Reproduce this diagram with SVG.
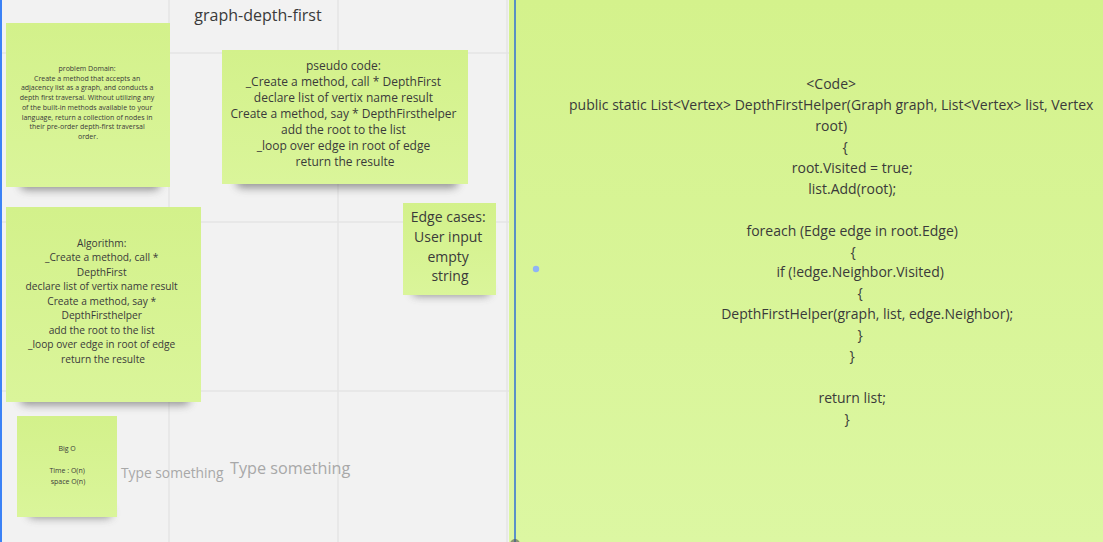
<svg xmlns="http://www.w3.org/2000/svg" width="1103" height="542" viewBox="0 0 1103 542">
<style>
.t{font-family:"Open Sans","Noto Sans","Liberation Sans",sans-serif;fill:#3a3a3a;text-anchor:middle}
.grid{stroke:#e4e4e4;stroke-width:1.5;fill:none}
.note{fill:url(#ng)}
.ph{font-family:"Open Sans","Noto Sans","Liberation Sans",sans-serif;fill:#a8a8a8}
</style>
<defs>
<linearGradient id="ng" x1="0" y1="0" x2="0" y2="1">
<stop offset="0" stop-color="#d3f18b"/>
<stop offset="1" stop-color="#daf59a"/>
</linearGradient>
<linearGradient id="pg" x1="0" y1="0" x2="0" y2="1">
<stop offset="0" stop-color="#d4f28c"/>
<stop offset="1" stop-color="#dcf7a2"/>
</linearGradient>
<filter id="sh" x="-20%" y="-20%" width="140%" height="160%">
<feGaussianBlur stdDeviation="4"/>
</filter>
</defs>
<rect width="1103" height="542" fill="#f2f2f2"/>
<g id="grid">
<line class="grid" x1="169" y1="0" x2="169" y2="542"/>
<line class="grid" x1="338" y1="0" x2="338" y2="542"/>
<line class="grid" x1="507" y1="0" x2="507" y2="542"/>
<line class="grid" x1="0" y1="53" x2="509" y2="53"/>
<line class="grid" x1="0" y1="222" x2="509" y2="222"/>
<line class="grid" x1="0" y1="391" x2="509" y2="391"/>
</g>
<line x1="1" y1="0" x2="1" y2="542" stroke="#3b82f6" stroke-width="2"/>
<text class="t" x="258" y="21" font-size="16" fill="#333">graph-depth-first</text>

<g id="shadows" fill="#555" opacity="0.6" filter="url(#sh)">
<rect x="20" y="177" width="140" height="13" rx="6"/>
<rect x="236" y="175" width="222" height="13" rx="6"/>
<rect x="20" y="392" width="170" height="13" rx="6"/>
<rect x="412" y="286" width="78" height="10" rx="5"/>
<rect x="28" y="508" width="84" height="10" rx="5"/>
</g>

<g id="problem-domain">
<rect class="note" x="6" y="23" width="164" height="164"/>
<text class="t" font-size="7" x="88">
<tspan x="88" y="71">problem Domain:</tspan>
<tspan x="88" y="80.7">Create a method that accepts an</tspan>
<tspan x="88" y="90.4">adjacency list as a graph, and conducts a</tspan>
<tspan x="88" y="100.1">depth first traversal. Without utilizing any</tspan>
<tspan x="88" y="109.8">of the built-in methods available to your</tspan>
<tspan x="88" y="119.5">language, return a collection of nodes in</tspan>
<tspan x="88" y="129.2">their pre-order depth-first traversal</tspan>
<tspan x="88" y="138.9">order.</tspan>
</text>
</g>

<g id="pseudo-code">
<rect class="note" x="222" y="50" width="246" height="134"/>
<text class="t" font-size="12" x="345">
<tspan x="345" y="70">pseudo code:</tspan>
<tspan x="345" y="86">_Create a method, call * DepthFirst</tspan>
<tspan x="345" y="102">declare list of vertix name result</tspan>
<tspan x="345" y="118">Create a method, say * DepthFirsthelper</tspan>
<tspan x="345" y="134">add the root to the list</tspan>
<tspan x="345" y="150">_loop over edge in root of edge</tspan>
<tspan x="345" y="166">return the resulte</tspan>
</text>
</g>

<g id="algorithm">
<rect class="note" x="6" y="207" width="195" height="195"/>
<text class="t" font-size="10.2" x="103">
<tspan x="103" y="246.5">Algorithm:</tspan>
<tspan x="103" y="261">_Create a method, call *</tspan>
<tspan x="103" y="275.5">DepthFirst</tspan>
<tspan x="103" y="290">declare list of vertix name result</tspan>
<tspan x="103" y="304.5">Create a method, say *</tspan>
<tspan x="103" y="319">DepthFirsthelper</tspan>
<tspan x="103" y="333.5">add the root to the list</tspan>
<tspan x="103" y="348">_loop over edge in root of edge</tspan>
<tspan x="103" y="362.5">return the resulte</tspan>
</text>
</g>

<g id="edge-cases">
<rect class="note" x="403" y="203" width="93" height="92"/>
<text class="t" font-size="14" x="450">
<tspan x="450" y="222">Edge cases:</tspan>
<tspan x="450" y="242">User input</tspan>
<tspan x="450" y="262">empty</tspan>
<tspan x="450" y="281">string</tspan>
</text>
</g>

<g id="big-o">
<rect class="note" x="17" y="416" width="100" height="101"/>
<text class="t" font-size="7" x="68">
<tspan x="68" y="451">Big O</tspan>
<tspan x="68" y="473">Time : O(n)</tspan>
<tspan x="68" y="483.5">space O(n)</tspan>
</text>
</g>

<g id="type-something-1">
<text class="ph" x="121" y="478" font-size="13.8">Type something</text>
</g>
<g id="type-something-2">
<text class="ph" x="230" y="474" font-size="16.2">Type something</text>
</g>

<g id="code-panel">
<rect x="509" y="0" width="594" height="542" fill="url(#pg)"/>
<line x1="515" y1="0" x2="515" y2="542" stroke="#2f6fd6" stroke-width="1.5"/>
<circle cx="515" cy="544" r="5" fill="#555" opacity="0.6"/>
<circle cx="536" cy="269" r="3.2" fill="#8fb4f5"/>
<text class="t" font-size="14" x="833">
<tspan x="833" y="89">&lt;Code&gt;</tspan>
<tspan x="833" y="110">public static List&lt;Vertex&gt; DepthFirstHelper(Graph graph, List&lt;Vertex&gt; list, Vertex</tspan>
<tspan x="833" y="131">root)</tspan>
<tspan x="847" y="152">{</tspan>
<tspan x="854" y="173">root.Visited = true;</tspan>
<tspan x="854" y="194">list.Add(root);</tspan>
<tspan x="854" y="236">foreach (Edge edge in root.Edge)</tspan>
<tspan x="855" y="257">{</tspan>
<tspan x="862" y="277">if (!edge.Neighbor.Visited)</tspan>
<tspan x="862" y="298">{</tspan>
<tspan x="869" y="319">DepthFirstHelper(graph, list, edge.Neighbor);</tspan>
<tspan x="862" y="340">}</tspan>
<tspan x="854" y="361">}</tspan>
<tspan x="854" y="403">return list;</tspan>
<tspan x="847" y="424">}</tspan>
</text>
</g>
</svg>
